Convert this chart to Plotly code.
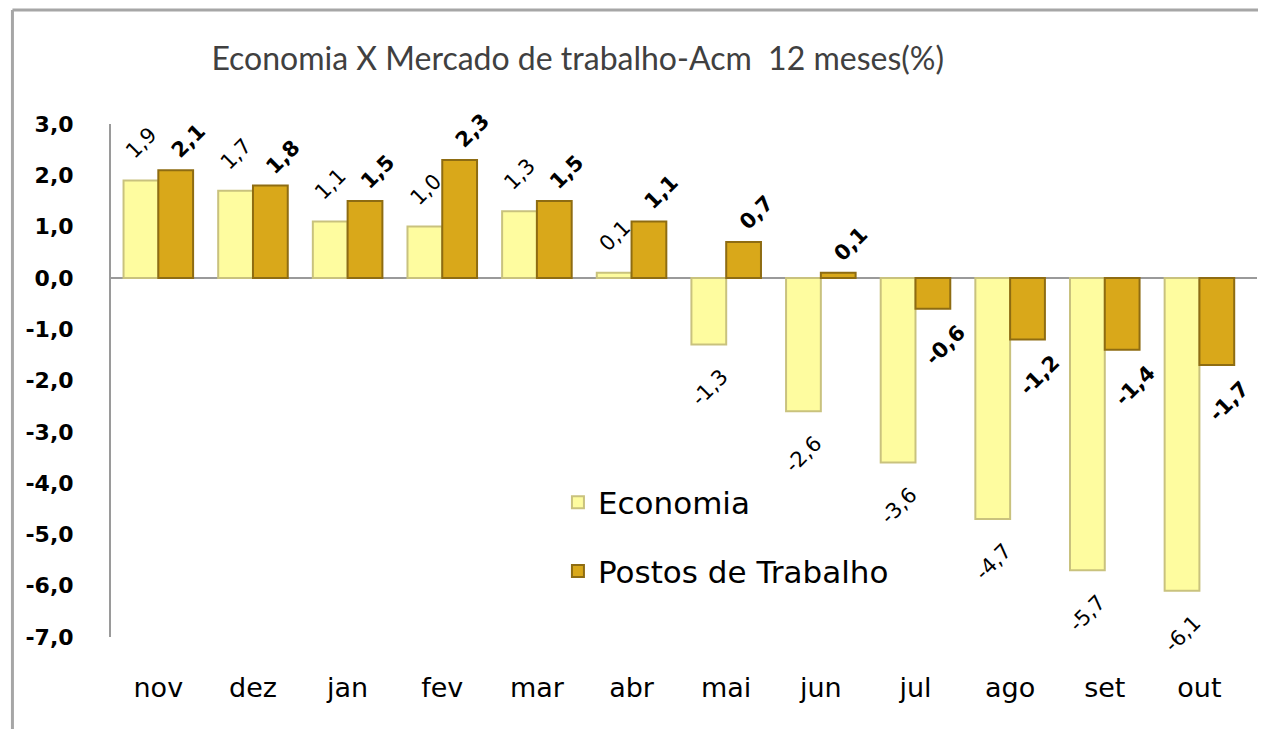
import plotly.graph_objects as go

meses = ["nov", "dez", "jan", "fev", "mar", "abr", "mai", "jun", "jul", "ago", "set", "out"]
economia = [1.9, 1.7, 1.1, 1.0, 1.3, 0.1, -1.3, -2.6, -3.6, -4.7, -5.7, -6.1]
postos = [2.1, 1.8, 1.5, 2.3, 1.5, 1.1, 0.7, 0.1, -0.6, -1.2, -1.4, -1.7]
y_ticks = [3, 2, 1, 0, -1, -2, -3, -4, -5, -6, -7]


def fmt(v):
    return f"{v:.1f}".replace(".", ",")


fig = go.Figure()

fig.add_trace(go.Bar(
    x=meses, y=economia, name="Economia",
    marker=dict(color="#FEFC9F", line=dict(color="#C9C27E", width=2)),
    legend="legend",
))
fig.add_trace(go.Bar(
    x=meses, y=postos, name="Postos de Trabalho",
    marker=dict(color="#D9A81A", line=dict(color="#8E6C12", width=2)),
    legend="legend2",
))

# rótulos girados, acima das barras positivas e abaixo das negativas
rotulos = []
for serie, dx, acima, abaixo, negrito in [(economia, -17, 37, -43, False),
                                           (postos, 30, 29, -36, True)]:
    for m, v in zip(meses, serie):
        txt = f"<b>{fmt(v)}</b>" if negrito else fmt(v)
        rotulos.append(dict(
            x=m, y=v, xref="x", yref="y", text=txt, showarrow=False,
            textangle=-45, xshift=dx, yshift=acima if v >= 0 else abaixo,
            font=dict(family="DejaVu Sans", size=21, color="black"),
        ))

legenda = dict(
    font=dict(family="DejaVu Sans", size=31, color="black"),
    bgcolor="rgba(0,0,0,0)", xanchor="left", yanchor="middle",
)

fig.update_layout(
    width=1266, height=729,
    showlegend=True,
    title=dict(text="Economia X Mercado de trabalho-Acm  12 meses(%)",
               x=0.45, xanchor="center", y=0.931, yanchor="middle",
               font=dict(family="Lato", size=32, color="#404040")),
    separators=",.",
    barmode="group", bargap=0.265, bargroupgap=0,
    plot_bgcolor="white", paper_bgcolor="white",
    margin=dict(l=103, r=17, t=116, b=100),
    legend=dict(x=0.39, y=0.262, **legenda),
    legend2=dict(x=0.39, y=0.128, **legenda),
    annotations=rotulos,
    xaxis=dict(
        automargin=False,
        showline=False, showgrid=False, ticks="outside", ticklen=27,
        tickcolor="rgba(0,0,0,0)",
        tickfont=dict(family="DejaVu Sans", size=27, color="black"),
    ),
    yaxis=dict(
        automargin=False,
        range=[-7, 3], tickvals=y_ticks, ticktext=[fmt(t) for t in y_ticks],
        showline=True, linecolor="#9A9A9A", linewidth=2,
        showgrid=False, zeroline=True, zerolinecolor="#9A9A9A", zerolinewidth=2,
        ticks="outside", ticklen=31, tickcolor="rgba(0,0,0,0)",
        tickfont=dict(family="DejaVu Sans", size=22, color="black", weight="bold"),
    ),
    shapes=[
        dict(type="line", xref="paper", yref="paper", x0=-0.086, x1=1.03, y0=1.222, y1=1.222,
             line=dict(color="#A6A6A6", width=3)),
        dict(type="line", xref="paper", yref="paper", x0=-0.086, x1=-0.086, y0=1.222, y1=-0.2,
             line=dict(color="#A6A6A6", width=3)),
    ],
)

fig.write_html("out.html")
